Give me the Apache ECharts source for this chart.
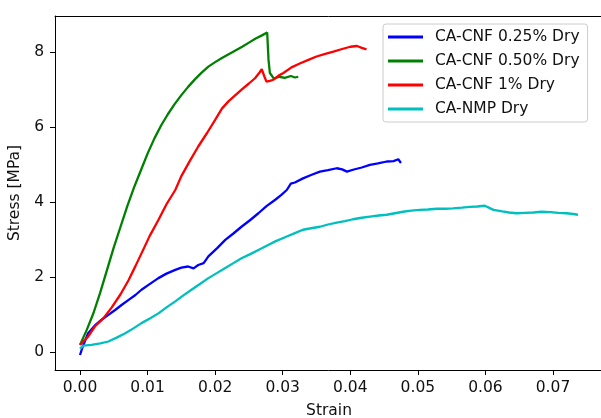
<!DOCTYPE html>
<html>
<head>
<meta charset="utf-8">
<title>Stress-strain</title>
<script src="https://cdn.jsdelivr.net/npm/echarts@6/dist/echarts.min.js"></script>
<style>
  html, body { margin: 0; padding: 0; background: #fff; }
  #chart { width: 601px; height: 418px; }
</style>
</head>
<body>
<div id="chart"></div>
<script>
// series names (legend order)
var names = ['CA-CNF 0.25% Dry', 'CA-CNF 0.50% Dry', 'CA-CNF 1% Dry', 'CA-NMP Dry'];
var colors = ['#0000ff', '#008000', '#ff0000', '#00bfbf'];

// CA-CNF 0.25% Dry
var strain025 = [0, 0.0004, 0.0012, 0.0022, 0.0032, 0.0042, 0.0052, 0.0062, 0.0072, 0.0082, 0.0091, 0.0103, 0.0116, 0.0128, 0.0141, 0.015, 0.016, 0.0168, 0.0175, 0.0183, 0.019, 0.0203, 0.0215, 0.0227, 0.0239, 0.0252, 0.0264, 0.0276, 0.0289, 0.0298, 0.0306, 0.0312, 0.0318, 0.033, 0.0342, 0.0355, 0.0367, 0.038, 0.0388, 0.0395, 0.0404, 0.0417, 0.0429, 0.0441, 0.0454, 0.0464, 0.0471, 0.0475];
var stress025 = [-0.07, 0.15, 0.51, 0.72, 0.87, 1.0, 1.13, 1.27, 1.4, 1.53, 1.67, 1.82, 1.98, 2.1, 2.2, 2.26, 2.29, 2.24, 2.33, 2.38, 2.56, 2.78, 3.0, 3.17, 3.35, 3.53, 3.71, 3.9, 4.07, 4.2, 4.33, 4.5, 4.53, 4.64, 4.73, 4.82, 4.86, 4.91, 4.88, 4.82, 4.87, 4.93, 5.0, 5.04, 5.09, 5.1, 5.15, 5.05];

// CA-CNF 0.50% Dry
var strain050 = [0, 0.001, 0.002, 0.003, 0.004, 0.005, 0.006, 0.007, 0.008, 0.009, 0.01, 0.011, 0.012, 0.013, 0.014, 0.015, 0.016, 0.017, 0.018, 0.019, 0.02, 0.021, 0.022, 0.023, 0.024, 0.025, 0.026, 0.027, 0.0277, 0.0279, 0.0281, 0.0287, 0.0295, 0.0303, 0.0312, 0.0318, 0.0323];
var stress050 = [0.2, 0.6, 1.05, 1.6, 2.2, 2.8, 3.35, 3.9, 4.4, 4.85, 5.3, 5.7, 6.05, 6.35, 6.62, 6.86, 7.08, 7.28, 7.46, 7.62, 7.74, 7.85, 7.95, 8.05, 8.15, 8.26, 8.37, 8.46, 8.53, 7.8, 7.45, 7.3, 7.35, 7.32, 7.37, 7.33, 7.35];

// CA-CNF 1% Dry
var strain1 = [0, 0.0012, 0.0022, 0.0035, 0.0047, 0.006, 0.0072, 0.0082, 0.0091, 0.0103, 0.0116, 0.0128, 0.0141, 0.015, 0.0163, 0.0175, 0.0188, 0.02, 0.021, 0.022, 0.023, 0.024, 0.025, 0.0259, 0.0266, 0.0269, 0.0273, 0.0276, 0.0281, 0.0286, 0.0294, 0.0301, 0.0313, 0.0326, 0.0338, 0.035, 0.0363, 0.0375, 0.0388, 0.04, 0.041, 0.0417, 0.0424];
var stress1 = [0.2, 0.42, 0.69, 0.92, 1.2, 1.55, 1.93, 2.3, 2.64, 3.1, 3.53, 3.95, 4.33, 4.7, 5.12, 5.49, 5.85, 6.2, 6.5, 6.7, 6.86, 7.02, 7.17, 7.31, 7.47, 7.55, 7.35, 7.22, 7.24, 7.27, 7.38, 7.45, 7.6, 7.71, 7.8, 7.89, 7.96, 8.02, 8.09, 8.15, 8.17, 8.12, 8.08];

// CA-NMP Dry
var strainNmp = [0, 0.0005, 0.0017, 0.003, 0.0042, 0.0055, 0.0067, 0.0079, 0.0091, 0.0104, 0.0116, 0.0128, 0.0141, 0.0153, 0.0165, 0.0178, 0.019, 0.0203, 0.0215, 0.0227, 0.0239, 0.0252, 0.0264, 0.0277, 0.0289, 0.0306, 0.0318, 0.033, 0.0342, 0.0355, 0.0367, 0.038, 0.0392, 0.0404, 0.0417, 0.0429, 0.0442, 0.0454, 0.0466, 0.0478, 0.049, 0.0503, 0.0515, 0.0528, 0.054, 0.0552, 0.0565, 0.0577, 0.0588, 0.0599, 0.0605, 0.0612, 0.0625, 0.0635, 0.0646, 0.0658, 0.0671, 0.0683, 0.0696, 0.0708, 0.072, 0.073, 0.0737];
var stressNmp = [0.1, 0.18, 0.2, 0.24, 0.29, 0.4, 0.51, 0.64, 0.78, 0.91, 1.04, 1.2, 1.36, 1.52, 1.67, 1.83, 1.98, 2.12, 2.25, 2.38, 2.51, 2.62, 2.73, 2.85, 2.96, 3.09, 3.18, 3.27, 3.31, 3.35, 3.41, 3.46, 3.5, 3.55, 3.59, 3.62, 3.65, 3.67, 3.71, 3.75, 3.78, 3.8, 3.81, 3.83, 3.83, 3.84, 3.86, 3.88, 3.89, 3.91, 3.86, 3.8, 3.76, 3.73, 3.71, 3.72, 3.73, 3.75, 3.74, 3.72, 3.71, 3.69, 3.67];

// tick positions
var xTicks = [0, 0.01, 0.02, 0.03, 0.04, 0.05, 0.06, 0.07];
var yTicks = [0, 2, 4, 6, 8];

function pairs(xs, ys) {
  return xs.map(function (x, i) { return [x, ys[i]]; });
}
var allData = [
  pairs(strain025, stress025),
  pairs(strain050, stress050),
  pairs(strain1, stress1),
  pairs(strainNmp, stressNmp)
];

var font = 'DejaVu Sans';
var xMin = -0.0037, xMax = 0.0774;
var chart = echarts.init(document.getElementById('chart'));

var option = {
  animation: false,
  backgroundColor: '#fff',
  grid: { left: 55, top: 16, bottom: 48, right: -2, containLabel: false, outerBoundsMode: 'none' },
  legend: {
    orient: 'vertical',
    left: 383, top: 24,
    padding: [5, 8, 5, 5],
    itemGap: 8,
    itemWidth: 35, itemHeight: 3,
    icon: 'rect',
    backgroundColor: 'rgba(255,255,255,0.8)',
    borderColor: '#cccccc', borderWidth: 1, borderRadius: 3,
    textStyle: { fontFamily: font, fontSize: 15.5, color: '#111', padding: [0, 0, 0, 7], lineHeight: 16 },
    data: names
  },
  xAxis: [{
    type: 'value',
    min: xMin, max: xMax,
    name: 'Strain', nameLocation: 'middle', nameGap: 33,
    nameTextStyle: { fontFamily: font, fontSize: 15.5, color: '#111' },
    splitLine: { show: false },
    axisLine: { onZero: false, lineStyle: { color: '#000', width: 1 } },
    axisTick: { show: true, length: 5, inside: false, customValues: xTicks, lineStyle: { color: '#000' } },
    axisLabel: {
      customValues: xTicks, margin: 10,
      fontFamily: font, fontSize: 15.5, color: '#111',
      formatter: function (v) { return v.toFixed(2); }
    }
  }, {
    // top frame line
    type: 'value', position: 'top',
    min: xMin, max: xMax,
    splitLine: { show: false },
    axisLine: { show: true, onZero: false, lineStyle: { color: '#000', width: 1 } },
    axisTick: { show: false },
    axisLabel: { show: false }
  }],
  yAxis: {
    type: 'value',
    min: -0.47, max: 8.97,
    name: 'Stress [MPa]', nameLocation: 'middle', nameGap: 31, nameRotate: 90,
    nameTextStyle: { fontFamily: font, fontSize: 15.5, color: '#111' },
    splitLine: { show: false },
    axisLine: { show: true, onZero: false, lineStyle: { color: '#000', width: 1 } },
    axisTick: { show: true, length: 5, inside: false, customValues: yTicks, lineStyle: { color: '#000' } },
    axisLabel: {
      customValues: yTicks, margin: 11,
      fontFamily: font, fontSize: 15.5, color: '#111'
    }
  },
  series: names.map(function (n, i) {
    return {
      name: n,
      type: 'line',
      data: allData[i],
      symbol: 'none',
      color: colors[i],
      lineStyle: { color: colors[i], width: 2.3 }
    };
  })
};

chart.setOption(option);
</script>
</body>
</html>
